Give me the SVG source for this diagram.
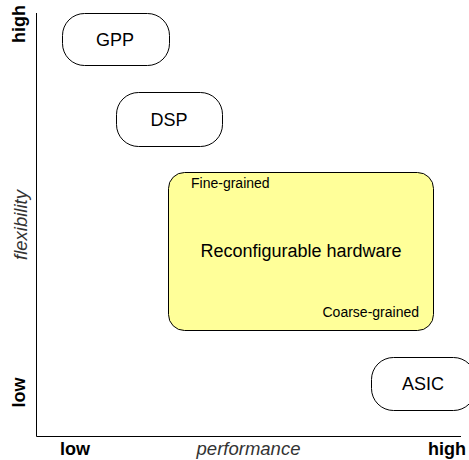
<svg xmlns="http://www.w3.org/2000/svg" width="469" height="460" viewBox="0 0 469 460">
  <style>
    .node { fill: #ffffff; stroke: #000000; stroke-width: 1; }
    .hw { fill: #ffff99; stroke: #000000; stroke-width: 1; }
    .axis { stroke: #000000; stroke-width: 1; fill: none; }
    text { font-family: "Liberation Sans", Arial, sans-serif; fill: #000000; }
    .lbl { font-size: 18px; text-anchor: middle; }
    .small { font-size: 14px; }
    .tick { font-size: 18px; font-weight: bold; }
    .axname { font-size: 18.5px; font-style: italic; fill: #333333; }
  </style>

  <!-- axes -->
  <g id="axes">
    <path class="axis" d="M36.5,13 V436.5 H461"/>
  </g>

  <!-- axis labels -->
  <g id="y-labels">
    <text class="tick" transform="translate(24.5,24) rotate(-90)" text-anchor="middle">high</text>
    <text class="tick" transform="translate(24.5,392.5) rotate(-90)" text-anchor="middle">low</text>
    <text class="axname" transform="translate(26.5,225) rotate(-90)" text-anchor="middle">flexibility</text>
  </g>
  <g id="x-labels">
    <text class="tick" x="75" y="455" text-anchor="middle">low</text>
    <text class="axname" x="248.5" y="455" text-anchor="middle">performance</text>
    <text class="tick" x="447" y="455" text-anchor="middle">high</text>
  </g>

  <g id="gpp">
    <rect class="node" x="62.5" y="13.5" width="107" height="52" rx="22" ry="22"/>
    <text class="lbl" x="115" y="46">GPP</text>
  </g>

  <g id="dsp">
    <rect class="node" x="116.5" y="92.5" width="106" height="54" rx="22" ry="22"/>
    <text class="lbl" x="169" y="126">DSP</text>
  </g>

  <g id="reconfigurable">
    <rect class="hw" x="168.5" y="172.5" width="265" height="158" rx="16" ry="16"/>
    <text class="lbl" x="301" y="257" font-size="18.5">Reconfigurable hardware</text>
    <text class="small" x="191" y="188">Fine-grained</text>
    <text class="small" x="419" y="317" text-anchor="end">Coarse-grained</text>
  </g>

  <g id="asic">
    <rect class="node" x="371.5" y="357.5" width="104" height="53" rx="22" ry="22"/>
    <text class="lbl" x="423" y="390">ASIC</text>
  </g>
</svg>
